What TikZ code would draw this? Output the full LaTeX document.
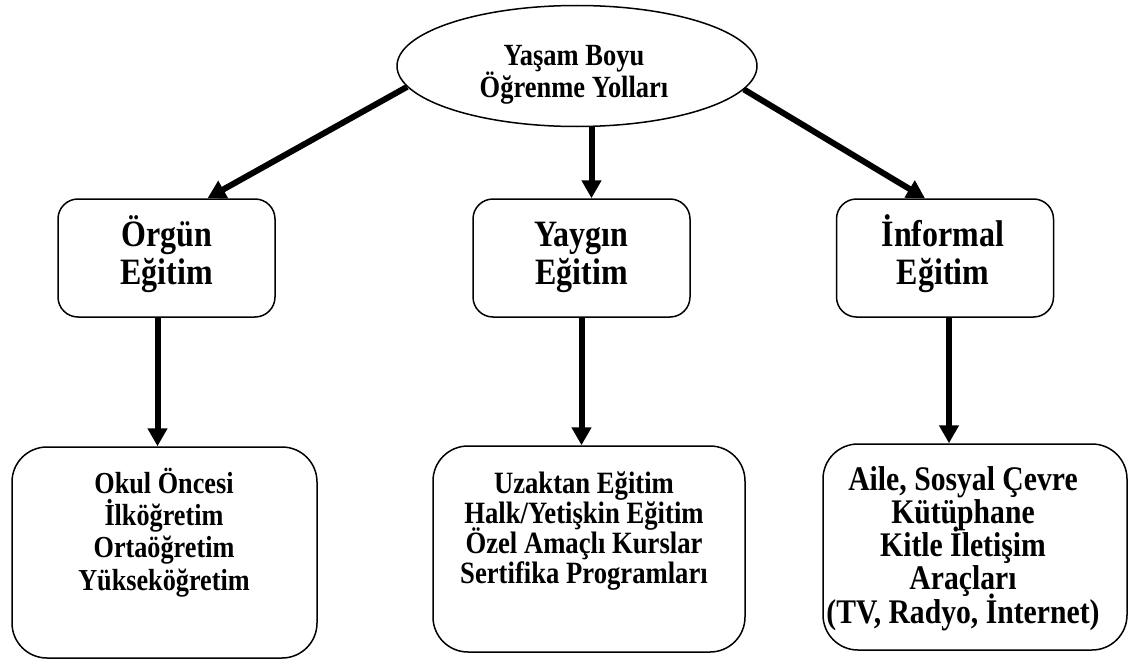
\documentclass[tikz,border=0pt]{standalone}
\usepackage{fontspec}
\setmainfont{Liberation Serif}
\newfontfamily\tallserif[FakeStretch=0.86]{Liberation Serif}
\usetikzlibrary{arrows.meta,shapes.geometric}
\newcommand{\txtfont}[2]{\tallserif\bfseries\fontsize{#1}{#2}\selectfont\lineskiplimit=-100pt\relax}
\tikzset{
  box/.style={draw, line width=1.5pt, rounded corners=20pt, minimum width=217pt, minimum height=118pt, inner sep=0pt},
  bigbox/.style={draw, line width=1.5pt, rounded corners=35pt, inner sep=0pt},
  arr/.style={line width=6pt, -{Triangle[length=18pt,width=19pt]}},
  txt/.style={align=center, inner sep=0pt, anchor=base},
}
\begin{document}
\begin{tikzpicture}[x=1pt,y=-1pt]
\useasboundingbox (0,0) rectangle (1130,661);
% root ellipse
\node[draw, ellipse, line width=1.5pt, minimum width=360pt, minimum height=121pt, inner sep=0pt] (root) at (577,66) {};
\node[txt, font=\txtfont{30.8}{32}] (roott) at (574,97) {Yaşam Boyu\\Öğrenme Yolları};
% second level
\node[box] (o1) at (166.5,258) {};
\node[txt, font=\txtfont{37.2}{38}] (o1t) at (166.5,284) {Örgün\\Eğitim};
\node[box] (y1) at (581.5,258) {};
\node[txt, font=\txtfont{37.2}{38}] (y1t) at (581.5,284) {Yaygın\\Eğitim};
\node[box] (i1) at (945,258) {};
\node[txt, font=\txtfont{37.2}{38}] (i1t) at (943,284) {İnformal\\Eğitim};
% third level
\node[bigbox, minimum width=305pt, minimum height=211pt] (o2) at (164.5,552.5) {};
\node[txt, font=\txtfont{30.5}{32.3}] (o2t) at (164,590) {Okul Öncesi\\İlköğretim\\Ortaöğretim\\Yükseköğretim};
\node[bigbox, minimum width=312pt, minimum height=206pt] (y2) at (589,549) {};
\node[txt, font=\txtfont{31}{30}] (y2t) at (584,583) {Uzaktan Eğitim\\Halk/Yetişkin Eğitim\\Özel Amaçlı Kurslar\\Sertifika Programları};
\node[bigbox, minimum width=304pt, minimum height=206pt] (i2) at (975,547) {};
\node[txt, font=\txtfont{34.5}{33.2}] (i2t) at (963,623) {Aile, Sosyal Çevre\\Kütüphane\\Kitle İletişim\\Araçları\\(TV, Radyo, İnternet)};
% connectors
\coordinate (ya) at ([xshift=10pt]y1.north);
\draw[arr] (root.187) -- ([xshift=41pt]o1.north);
\draw[arr] (root.south -| ya) -- (ya);
\draw[arr] (root.352.5) -- ([xshift=-20pt]i1.north);
\draw[arr] ([xshift=-9pt]o1.south) -- ([xshift=-9pt]o1.south |- o2.north);
\draw[arr] (y1.south) -- (y1.south |- y2.north);
\draw[arr] ([xshift=4pt]i1.south) -- ([xshift=4pt]i1.south |- i2.north);
\end{tikzpicture}
\end{document}
